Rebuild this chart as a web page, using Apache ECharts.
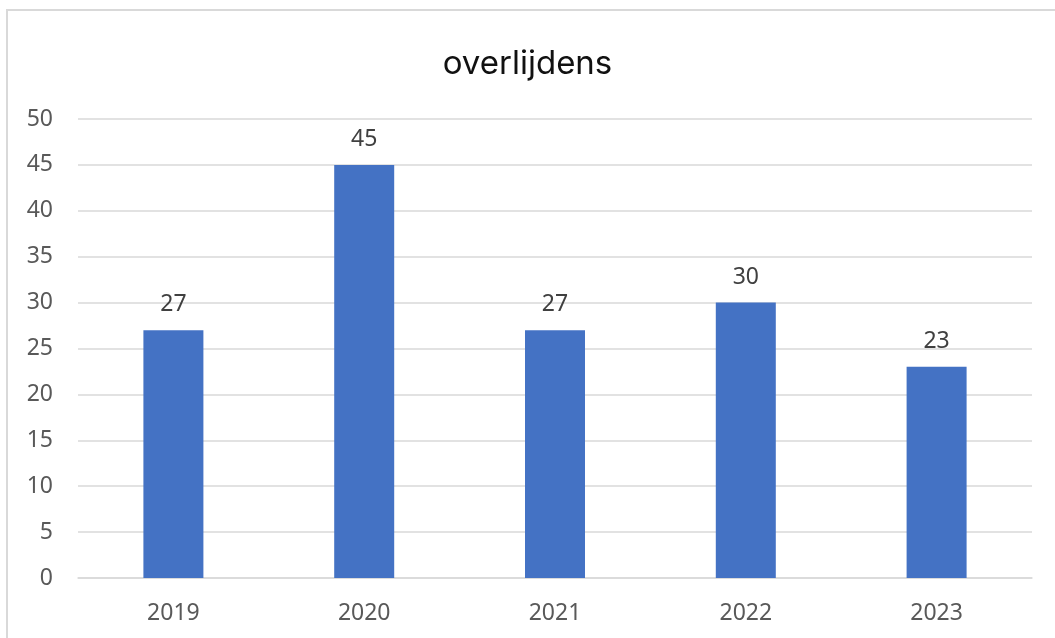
<!DOCTYPE html>
<html>
<head>
<meta charset="utf-8">
<script src="https://cdn.jsdelivr.net/npm/echarts@6/dist/echarts.min.js"></script>
<style>html,body{margin:0;padding:0;background:#fff;}#c{width:1055px;height:638px;}</style>
</head>
<body>
<div id="c"></div>
<script>
var categories = ['2019', '2020', '2021', '2022', '2023'];
var values = [27, 45, 27, 30, 23];
var titleText = 'overlijdens';

var chart = echarts.init(document.getElementById('c'), null, {renderer: 'canvas'});
chart.setOption({
  animation: false,
  backgroundColor: '#fff',
  title: {
    text: titleText,
    left: 'center',
    top: 43,
    textStyle: {fontFamily: 'Inter', fontWeight: 'normal', fontSize: 33, color: '#111'}
  },
  graphic: [{
    type: 'rect',
    shape: {x: 7, y: 10, width: 1200, height: 800},
    style: {fill: 'none', stroke: '#d9d9d9', lineWidth: 2},
    silent: true
  }],
  grid: {left: 78, right: 23, top: 119, bottom: 60, containLabel: false},
  xAxis: {
    type: 'category',
    data: categories,
    axisTick: {show: false},
    axisLine: {lineStyle: {color: '#d9d9d9', width: 1.5}},
    axisLabel: {color: '#595959', fontSize: 23, fontFamily: 'Noto Sans', margin: 24}
  },
  yAxis: {
    type: 'value',
    min: 0, max: 50, interval: 5,
    axisLine: {show: false},
    axisTick: {show: false},
    splitLine: {lineStyle: {color: '#d9d9d9', width: 1.5}},
    axisLabel: {color: '#595959', fontSize: 23, fontFamily: 'Noto Sans', margin: 25}
  },
  series: [{
    type: 'bar',
    data: values,
    barWidth: 60,
    itemStyle: {color: '#4472c4'},
    label: {show: true, position: 'top', distance: 14, color: '#404040', fontSize: 23, fontFamily: 'Noto Sans'}
  }]
});
</script>
</body>
</html>
